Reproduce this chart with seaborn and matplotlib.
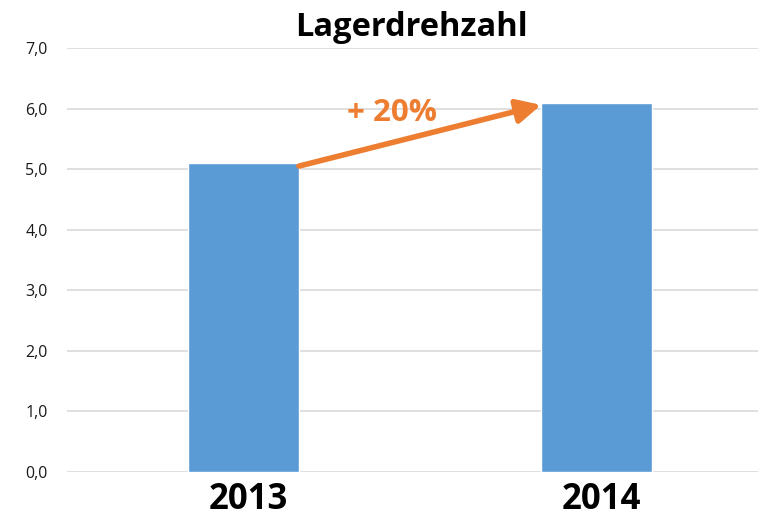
import matplotlib
matplotlib.use("Agg")
import matplotlib.pyplot as plt
import matplotlib.transforms as mtransforms
import seaborn as sns
import pandas as pd

years = ["2013", "2014"]
values = [5.1, 6.1]
title = "Lagerdrehzahl"
annotation = "+ 20%"
yticks = [0, 1, 2, 3, 4, 5, 6, 7]

sns.set_theme(style="white")
plt.rcParams['font.family'] = ['Open Sans', 'DejaVu Sans']

W, H = 763, 518
fig = plt.figure(figsize=(W/100, H/100), dpi=100)
ax = fig.add_axes([67/W, (H-472)/H, (758-67)/W, (472-48)/H])

df = pd.DataFrame({"Jahr": years, "Wert": values})
sns.barplot(data=df, x="Jahr", y="Wert", color="#5B9BD5", saturation=1, width=0.314, ax=ax, zorder=3)

ax.set_ylim(0, 7)
ax.set_xlim(-0.5, 1.4575)
ax.set_yticks(yticks)
ax.set_yticklabels([f"{v:.1f}".replace(".", ",") for v in yticks], fontsize=11.5, color="#1a1a1a")
ax.yaxis.grid(True, color="#D9D9D9", linewidth=1.2, zorder=0)
ax.set_axisbelow(True)
for s in ax.spines.values():
    s.set_visible(False)
ax.tick_params(axis="y", length=0, pad=14)
ax.tick_params(axis="x", length=0, pad=7)
offset = mtransforms.ScaledTranslation(5/100, 0, fig.dpi_scale_trans)
for lbl in ax.get_xticklabels():
    lbl.set_fontsize(25)
    lbl.set_fontweight("bold")
    lbl.set_color("black")
    lbl.set_transform(lbl.get_transform() + offset)
ax.set_xlabel("")
ax.set_ylabel("")

# arrow from top-right of bar 1 to top-left of bar 2
bw = 0.314
ax.annotate("", xy=(1 - bw/2, 6.06), xytext=(bw/2, 5.05),
            arrowprops=dict(arrowstyle="-|>,head_length=1.2,head_width=0.6", color="#ED7D31",
                            lw=4, shrinkA=0, shrinkB=0), zorder=5)
ax.text(0.42, 5.93, annotation, color="#ED7D31", fontsize=22.5, fontweight="bold",
        ha="center", va="center")

fig.text((296+527)/2/W, 1 - 27/H, title, ha="center", va="center", fontsize=23.5,
         fontweight="bold", color="black")

fig.savefig("out.png", dpi=100)
